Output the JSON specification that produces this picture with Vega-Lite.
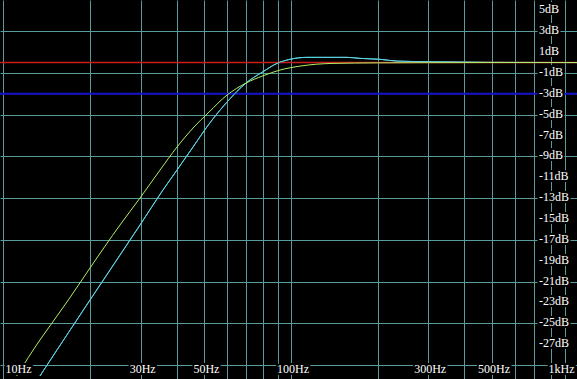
{
  "$schema": "https://vega.github.io/schema/vega-lite/v6.json",
  "width": 577,
  "height": 379,
  "autosize": {"type": "none"},
  "padding": 0,
  "background": "#000000",
  "config": {"view": {"stroke": null}, "axis": {"minExtent": 0, "maxExtent": 0}},
  "datasets": {
    "green": [
      {"f": 11.11, "db": -30.06}, {"f": 13.39, "db": -26.61}, {"f": 14.17, "db": -25.65},
      {"f": 16.81, "db": -22.77}, {"f": 20.0, "db": -19.7}, {"f": 25.42, "db": -15.58},
      {"f": 29.84, "db": -12.99}, {"f": 35.03, "db": -10.31}, {"f": 40.13, "db": -8.1},
      {"f": 45.62, "db": -6.28}, {"f": 51.85, "db": -4.75}, {"f": 59.9, "db": -3.12},
      {"f": 69.7, "db": -1.97}, {"f": 79.9, "db": -1.27}, {"f": 91.5, "db": -0.72},
      {"f": 107.5, "db": -0.34}, {"f": 140, "db": -0.08}, {"f": 200, "db": -0.03},
      {"f": 300, "db": -0.01}, {"f": 500, "db": 0}, {"f": 988, "db": 0}
    ],
    "cyan": [
      {"f": 13.39, "db": -30.06}, {"f": 15.35, "db": -27.56}, {"f": 20.0, "db": -22.77},
      {"f": 29.84, "db": -15.58}, {"f": 35.87, "db": -12.22}, {"f": 40.13, "db": -10.31},
      {"f": 45.62, "db": -8.1}, {"f": 51.85, "db": -5.9}, {"f": 59.9, "db": -3.79},
      {"f": 69.7, "db": -1.97}, {"f": 79.9, "db": -0.88}, {"f": 89.4, "db": -0.08},
      {"f": 99.2, "db": 0.31}, {"f": 113.7, "db": 0.5}, {"f": 156.6, "db": 0.5},
      {"f": 173.8, "db": 0.4}, {"f": 204, "db": 0.31}, {"f": 234, "db": 0.14},
      {"f": 304, "db": 0.08}, {"f": 492, "db": 0.02}, {"f": 988, "db": 0}
    ],
    "xlabels": [
      {"f": 10, "label": "10Hz", "pos": "left"},
      {"f": 30, "label": "30Hz", "pos": "mid"},
      {"f": 50, "label": "50Hz", "pos": "mid"},
      {"f": 100, "label": "100Hz", "pos": "mid"},
      {"f": 300, "label": "300Hz", "pos": "mid"},
      {"f": 500, "label": "500Hz", "pos": "mid"},
      {"f": 1000, "label": "1kHz", "pos": "right"}
    ],
    "ylabels": [
      {"db": 5, "label": "5dB"}, {"db": 3, "label": "3dB"}, {"db": 1, "label": "1dB"},
      {"db": -1, "label": "-1dB"}, {"db": -3, "label": "-3dB"}, {"db": -5, "label": "-5dB"},
      {"db": -7, "label": "-7dB"}, {"db": -9, "label": "-9dB"}, {"db": -11, "label": "-11dB"},
      {"db": -13, "label": "-13dB"}, {"db": -15, "label": "-15dB"}, {"db": -17, "label": "-17dB"},
      {"db": -19, "label": "-19dB"}, {"db": -21, "label": "-21dB"}, {"db": -23, "label": "-23dB"},
      {"db": -25, "label": "-25dB"}, {"db": -27, "label": "-27dB"}
    ]
  },
  "layer": [
    {
      "data": {"name": "cyan"},
      "mark": {"type": "line", "color": "#5cd4e4", "strokeWidth": 1, "interpolate": "monotone", "clip": true},
      "encoding": {
        "x": {
          "field": "f", "type": "quantitative",
          "scale": {"type": "log", "domain": [9.724, 988], "nice": false},
          "axis": {
            "values": [10, 20, 30, 40, 50, 60, 70, 80, 90, 100, 200, 300, 400, 500, 600, 700, 800, 900, 1000],
            "grid": true, "gridColor": "#5a9c9c", "gridWidth": 1, "gridOpacity": 1,
            "labels": false, "ticks": false, "domain": false, "title": null
          }
        },
        "y": {
          "field": "db", "type": "quantitative",
          "scale": {"domain": [-30.35, 6.0], "nice": false, "zero": false},
          "axis": {
            "values": [-29, -28, -27, -26, -25, -24, -23, -22, -21, -20, -19, -18, -17, -16, -15, -14, -13, -12, -11, -10, -9, -8, -7, -6, -5, -4, -3, -2, -1, 0, 1, 2, 3, 4, 5],
            "grid": true, "gridColor": "#5a9c9c", "gridWidth": 1, "gridOpacity": 1,
            "labels": false, "ticks": false, "domain": false, "title": null
          }
        }
      }
    },
    {
      "data": {"values": [{}]},
      "mark": {"type": "rule", "color": "#cc1c1c", "strokeWidth": 1.5},
      "encoding": {"y": {"datum": 0}}
    },
    {
      "data": {"values": [{}]},
      "mark": {"type": "rule", "color": "#1414cc", "strokeWidth": 2},
      "encoding": {"y": {"datum": -3}}
    },
    {
      "data": {"name": "cyan"},
      "mark": {"type": "line", "color": "#5cd4e4", "strokeWidth": 1, "interpolate": "monotone", "clip": true},
      "encoding": {
        "x": {"field": "f", "type": "quantitative"},
        "y": {"field": "db", "type": "quantitative"}
      }
    },
    {
      "data": {"name": "green"},
      "mark": {"type": "line", "color": "#b0f064", "strokeWidth": 1, "interpolate": "monotone", "clip": true},
      "encoding": {
        "x": {"field": "f", "type": "quantitative"},
        "y": {"field": "db", "type": "quantitative"}
      }
    },
    {
      "data": {"name": "ylabels"},
      "mark": {"type": "text", "align": "left", "baseline": "middle", "dy": -1, "font": "Liberation Serif", "fontSize": 12, "fill": "#000000", "stroke": "#000000", "strokeWidth": 4},
      "encoding": {
        "x": {"datum": 729},
        "y": {"field": "db", "type": "quantitative"},
        "text": {"field": "label"}
      }
    },
    {
      "data": {"name": "ylabels"},
      "mark": {"type": "text", "align": "left", "baseline": "middle", "dy": -1, "font": "Liberation Serif", "fontSize": 12, "color": "#ffffff"},
      "encoding": {
        "x": {"datum": 729},
        "y": {"field": "db", "type": "quantitative"},
        "text": {"field": "label"}
      }
    },
    {
      "data": {"name": "xlabels"},
      "transform": [{"filter": "datum.pos == 'mid'"}],
      "mark": {"type": "text", "align": "center", "baseline": "alphabetic", "dx": 2, "font": "Liberation Serif", "fontSize": 12, "fill": "#000000", "stroke": "#000000", "strokeWidth": 4},
      "encoding": {
        "x": {"field": "f", "type": "quantitative"},
        "y": {"datum": -29.8},
        "text": {"field": "label"}
      }
    },
    {
      "data": {"name": "xlabels"},
      "transform": [{"filter": "datum.pos == 'mid'"}],
      "mark": {"type": "text", "align": "center", "baseline": "alphabetic", "dx": 2, "font": "Liberation Serif", "fontSize": 12, "color": "#ffffff"},
      "encoding": {
        "x": {"field": "f", "type": "quantitative"},
        "y": {"datum": -29.8},
        "text": {"field": "label"}
      }
    },
    {
      "data": {"name": "xlabels"},
      "transform": [{"filter": "datum.pos == 'left'"}],
      "mark": {"type": "text", "align": "left", "baseline": "alphabetic", "dx": 2, "font": "Liberation Serif", "fontSize": 12, "fill": "#000000", "stroke": "#000000", "strokeWidth": 4},
      "encoding": {
        "x": {"field": "f", "type": "quantitative"},
        "y": {"datum": -29.8},
        "text": {"field": "label"}
      }
    },
    {
      "data": {"name": "xlabels"},
      "transform": [{"filter": "datum.pos == 'left'"}],
      "mark": {"type": "text", "align": "left", "baseline": "alphabetic", "dx": 2, "font": "Liberation Serif", "fontSize": 12, "color": "#ffffff"},
      "encoding": {
        "x": {"field": "f", "type": "quantitative"},
        "y": {"datum": -29.8},
        "text": {"field": "label"}
      }
    },
    {
      "data": {"name": "xlabels"},
      "transform": [{"filter": "datum.pos == 'right'"}],
      "mark": {"type": "text", "align": "right", "baseline": "alphabetic", "dx": -4, "font": "Liberation Serif", "fontSize": 12, "fill": "#000000", "stroke": "#000000", "strokeWidth": 4},
      "encoding": {
        "x": {"field": "f", "type": "quantitative"},
        "y": {"datum": -29.8},
        "text": {"field": "label"}
      }
    },
    {
      "data": {"name": "xlabels"},
      "transform": [{"filter": "datum.pos == 'right'"}],
      "mark": {"type": "text", "align": "right", "baseline": "alphabetic", "dx": -4, "font": "Liberation Serif", "fontSize": 12, "color": "#ffffff"},
      "encoding": {
        "x": {"field": "f", "type": "quantitative"},
        "y": {"datum": -29.8},
        "text": {"field": "label"}
      }
    }
  ]
}
